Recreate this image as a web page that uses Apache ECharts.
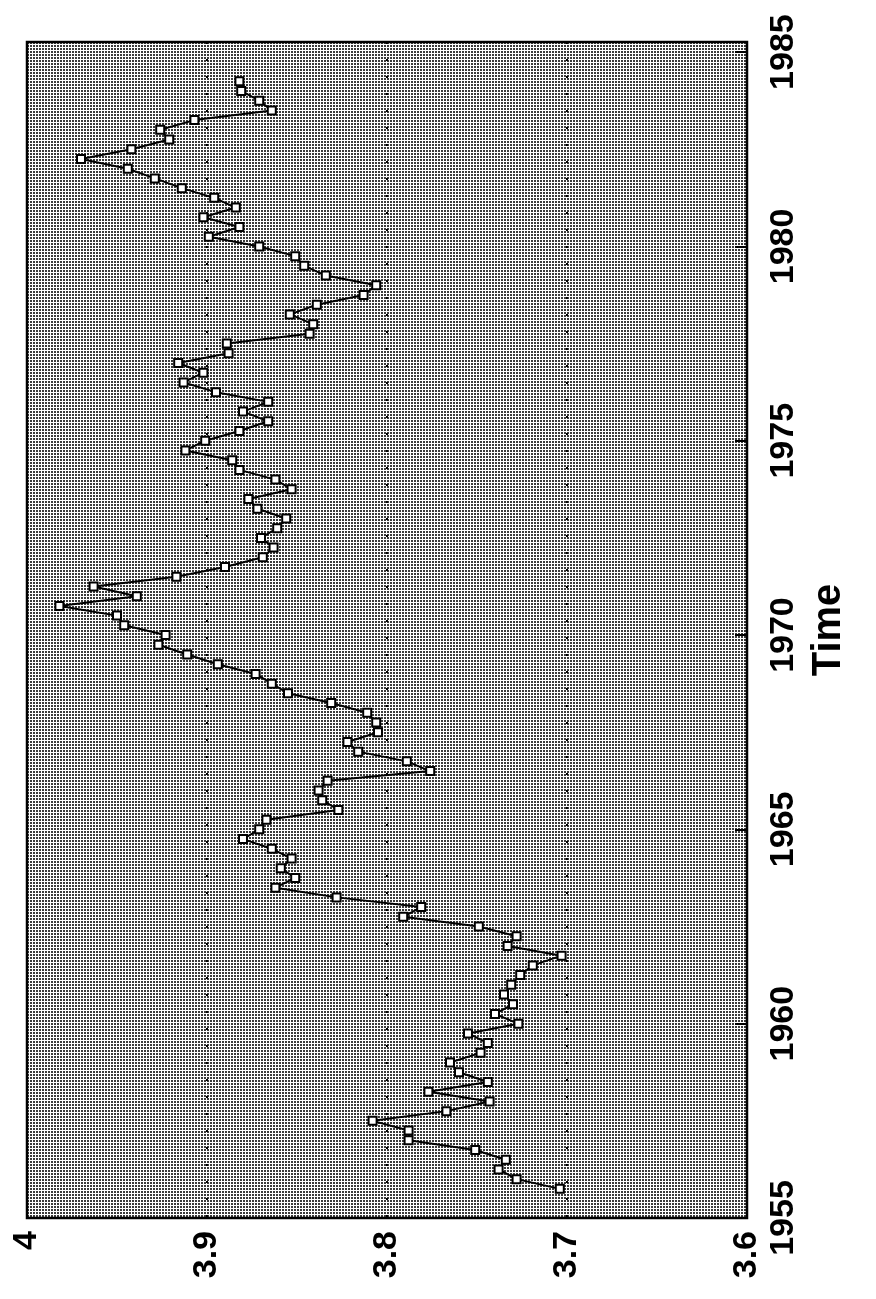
<!DOCTYPE html>
<html>
<head>
<meta charset="utf-8">
<script src="https://cdn.jsdelivr.net/npm/echarts@6/dist/echarts.min.js"></script>
<style>
  html, body { margin: 0; padding: 0; background: #fff; }
  #chart { width: 876px; height: 1299px; }
</style>
</head>
<body>
<div id="chart"></div>
<script>
// Quarterly observations, first quarter plotted at 1955.75
const firstQuarter = 1955.75;
const quarterStep = 0.25;

// 1955.75 - 1964.75
const values1955 = [3.704, 3.728, 3.738, 3.734, 3.751, 3.788, 3.788, 3.808, 3.767, 3.743,
  3.777, 3.744, 3.760, 3.765, 3.748, 3.744, 3.755, 3.727, 3.740, 3.730,
  3.735, 3.731, 3.726, 3.719, 3.703, 3.733, 3.728, 3.749, 3.791, 3.781,
  3.828, 3.862, 3.851, 3.859, 3.853, 3.864, 3.880];
// 1965.00 - 1974.75
const values1965 = [3.871, 3.867, 3.827, 3.836, 3.838, 3.833, 3.776, 3.789, 3.816, 3.822,
  3.805, 3.806, 3.811, 3.831, 3.855, 3.864, 3.873, 3.894, 3.911, 3.927,
  3.923, 3.946, 3.950, 3.982, 3.939, 3.963, 3.917, 3.890, 3.869, 3.863,
  3.870, 3.861, 3.856, 3.872, 3.877, 3.853, 3.862, 3.882, 3.886, 3.912];
// 1975.00 - 1984.25
const values1975 = [3.901, 3.882, 3.866, 3.880, 3.866, 3.895, 3.913, 3.902, 3.916, 3.888,
  3.889, 3.843, 3.841, 3.854, 3.839, 3.813, 3.806, 3.834, 3.846, 3.851,
  3.871, 3.899, 3.882, 3.902, 3.884, 3.896, 3.914, 3.929, 3.944, 3.970,
  3.942, 3.921, 3.926, 3.907, 3.864, 3.871, 3.881, 3.882];

const valueTicks = [3.6, 3.7, 3.8, 3.9, 4];
const yearTicks = [1955, 1960, 1965, 1970, 1975, 1980, 1985];
const axisTitle = 'Time';

const allValues = values1955.concat(values1965, values1975);
const seriesData = allValues.map((v, i) => [v, firstQuarter + i * quarterStep]);

// halftone background tile
const tile = document.createElement('canvas');
tile.width = 3; tile.height = 3;
const tctx = tile.getContext('2d');
tctx.fillStyle = '#ffffff';
tctx.fillRect(0, 0, 3, 3);
tctx.fillStyle = '#3a3a3a';
tctx.fillRect(0, 0, 2, 2);

const chart = echarts.init(document.getElementById('chart'), null, { renderer: 'canvas' });
const font = 'Liberation Sans, Arial, Helvetica, sans-serif';

chart.setOption({
  animation: false,
  backgroundColor: '#ffffff',
  grid: {
    left: 27, right: 129, top: 42, bottom: 81,
    show: true,
    backgroundColor: { image: tile, repeat: 'repeat' },
    borderColor: '#000', borderWidth: 2.5
  },
  xAxis: {
    type: 'value',
    min: valueTicks[0], max: valueTicks[valueTicks.length - 1], interval: 0.1,
    inverse: true,
    position: 'bottom',
    axisLine: { show: false },
    axisTick: { show: false },
    splitLine: {
      show: true,
      lineStyle: { color: '#000', width: 2, type: [2, 15] }
    },
    axisLabel: {
      rotate: 90, margin: 13,
      fontSize: 34, fontFamily: font, fontWeight: 'bold', color: '#000',
      formatter: v => String(+(+v).toFixed(1))
    }
  },
  yAxis: {
    type: 'value',
    min: yearTicks[0], max: 1985.26, interval: 5,
    position: 'right',
    axisLine: { show: false },
    axisTick: { show: true, inside: true, length: 12, lineStyle: { color: '#000', width: 2 } },
    splitLine: { show: false },
    axisLabel: {
      rotate: 90, margin: 20,
      fontSize: 34, fontFamily: font, fontWeight: 'bold', color: '#000',
      showMaxLabel: false,
      formatter: v => (yearTicks.indexOf(Math.round(v * 100) / 100) >= 0 ? String(v) : '')
    },
    name: axisTitle,
    nameLocation: 'middle',
    nameRotate: 90,
    nameGap: 62,
    nameTextStyle: { fontSize: 40, fontFamily: font, fontWeight: 'bold', color: '#000' }
  },
  series: [{
    type: 'line',
    data: seriesData,
    symbol: 'rect',
    symbolSize: 8,
    showAllSymbol: true,
    lineStyle: { color: '#000', width: 2 },
    itemStyle: { color: '#fff', borderColor: '#000', borderWidth: 2 },
    z: 3
  }]
});
</script>
</body>
</html>
